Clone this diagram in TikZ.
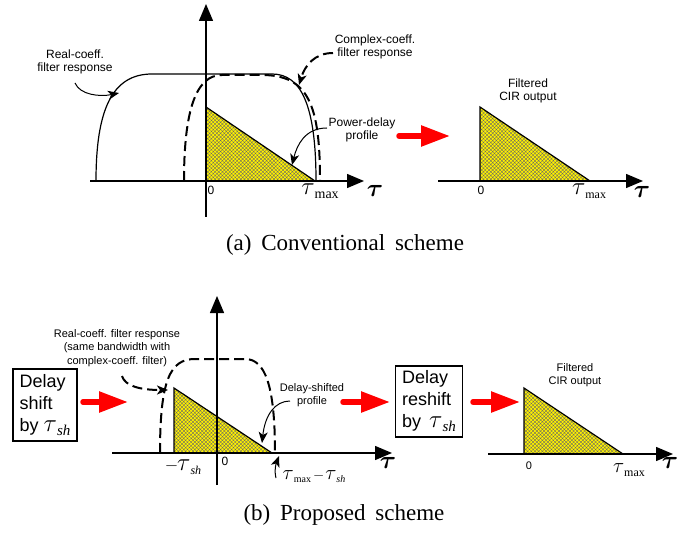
\documentclass[tikz,border=0pt]{standalone}
\usepackage{fontspec}
\setmainfont{Liberation Serif}
\newfontfamily\hv{Liberation Sans}
\usetikzlibrary{arrows.meta,patterns.meta}
\newcommand\tauf[1]{{\fontsize{#1}{#1}\selectfont\boldmath$\tau$}}
\newcommand\taun[1]{{\fontsize{#1}{#1}\selectfont$\tau$}}
\newcommand\tmx[3][-4pt]{\taun{#2}\raisebox{#1}{\rmfamily\upshape\fontsize{#3}{#3}\selectfont max}}
\newcommand\tsh[3][-4pt]{\taun{#2}\raisebox{#1}{\rmfamily\itshape\fontsize{#3}{#3}\selectfont sh}}
\tikzset{
  ax/.style={line width=1.4pt,-{Triangle[length=17pt,width=14pt]}},
  sol/.style={line width=1.2pt},
  dsh/.style={line width=2pt,dash pattern=on 10pt off 5pt},
  call/.style={line width=1pt,-{Stealth[length=11pt,width=9pt,inset=3pt]}},
  redarr/.style={red,line width=5.5pt,line cap=round,-{Triangle[length=29pt,width=20pt]}},
  lbl/.style={font=\hv\fontsize{12}{13.5}\selectfont,align=center,inner sep=0pt},
  lbls/.style={font=\hv\fontsize{11}{13.5}\selectfont,align=center,inner sep=0pt},
  num/.style={font=\hv\fontsize{12}{12}\selectfont,inner sep=0pt},
  sym/.style={inner sep=0pt},
  boxn/.style={draw,line width=1.2pt,font=\hv\fontsize{18}{22}\selectfont,align=left,inner xsep=0pt,inner ysep=0pt},
  pdp/.style={fill=yellow},
  hatch/.style={pattern={Hatch[angle=45,distance=2.6pt,line width=0.35pt]},pattern color=black!60},
  tri/.style={draw,line width=1.2pt},
  captxt/.style={font=\fontsize{23}{23}\selectfont,inner sep=0pt}
}
\begin{document}
\begin{tikzpicture}[x=1pt,y=-1pt]
\useasboundingbox (0,0) rectangle (692,534);

% ---------------- (a) left panel ----------------
\fill[pdp] (206,107) -- (206,181) -- (315,181) -- cycle;
\fill[hatch] (206,107) -- (206,181) -- (315,181) -- cycle;
\draw[tri] (206,107) -- (315,181);
\draw[sol] (96,181) .. controls (96,110) and (112,74) .. (152,74) -- (272,74)
  .. controls (301,74) and (316,105) .. (316,181);
\draw[dsh] (184,181) .. controls (184,110) and (196,75) .. (222,75) -- (262,75)
  .. controls (309,75) and (320,106) .. (320,181);
\draw[ax] (90,181) -- (364,181);
\draw[ax] (206,217) -- (206,4);
\node[num] (z1) at (211,190) {0};
\node[sym] (tm1) at (320,191) {\tmx{25}{14}};
\node[sym] (t1) at (375,191) {\tauf{27}};

\node[lbl] (rc) at (75,62) {Real-coeff.\\filter response};
\coordinate (rcA) at (75,83);
\coordinate (rcB) at (119,93);
\draw[call] (rcA) .. controls (80,95) and (100,97) .. (rcB);

\node[lbl] (cc) at (375,47) {Complex-coeff.\\filter response};
\coordinate (ccA) at (333,53);
\coordinate (ccB) at (299,85);
\draw[call,dsh] (ccA) .. controls (315,53) and (305,65) .. (ccB);

\node[lbl] (pd) at (362,130) {Power-delay\\profile};
\coordinate (pdA) at (327,128);
\coordinate (pdB) at (292,165);
\draw[call] (pdA) .. controls (305,128) and (297,145) .. (pdB);

\coordinate (ra1) at (399,136);
\coordinate (rb1) at (450,136);
\draw[redarr] (ra1) -- (rb1);

% ---------------- (a) right panel ----------------
\fill[pdp] (480,107) -- (480,181) -- (590,181) -- cycle;
\fill[hatch] (480,107) -- (480,181) -- (590,181) -- cycle;
\draw[tri] (480,181) -- (480,107) -- (590,181);
\draw[ax] (438,181) -- (643,181);
\node[num] (z2) at (481,190) {0};
\node[sym] (tm2) at (589,191) {\tmx{26}{12}};
\node[sym] (t2) at (642,192) {\tauf{27}};
\node[lbl] (fo1) at (528,91) {Filtered\\CIR output};

\node[captxt] (capa) at (345,245) {(a)\hspace{4pt} Conventional\hspace{4pt} scheme};

% ---------------- (b) ----------------
\node[boxn,minimum width=64pt,minimum height=72pt] (b1) at (45,405) {Delay\\shift\\by \tsh{24}{15}};
\coordinate (ra2) at (83,402);
\coordinate (rb2) at (128,402);
\draw[redarr] (ra2) -- (rb2);

\fill[pdp] (174,388) -- (174,453) -- (272,453) -- cycle;
\fill[hatch] (174,388) -- (174,453) -- (272,453) -- cycle;
\draw[tri] (174,453) -- (174,388) -- (272,453);
\draw[dsh] (160,453) .. controls (160,380) and (170,359) .. (195,359) -- (245,359)
  .. controls (265,359) and (275,385) .. (275,453);
\draw[ax] (112,453) -- (392,453);
\draw[ax] (217,485) -- (217,296);
\node[num] (z3) at (225,461) {0};
\node[sym] (ts3) at (183,467) {{\fontsize{16}{16}\selectfont$-$}\kern-1pt\tsh{23}{12}};
\node[sym] (t3) at (388,463) {\tauf{27}};
\node[sym] (tmts) at (314,477) {\tmx[-3pt]{22}{10}\kern2pt{\fontsize{14}{14}\selectfont$-$}\kern1pt\tsh[-3pt]{21}{10}};
\coordinate (upA) at (276,478);
\coordinate (upB) at (279,456);
\draw[call] (upA) .. controls (274,470) and (276,464) .. (upB);

\node[lbls] (rcb) at (117,348) {Real-coeff. filter response\\(same bandwidth with\\complex-coeff. filter)};
\coordinate (rbA) at (122,376);
\coordinate (rbB) at (168,390);
\draw[call,dsh] (rbA) .. controls (125,386) and (140,390) .. (rbB);

\node[lbls] (ds) at (312,395) {Delay-shifted\\profile};
\coordinate (dsA) at (290,401);
\coordinate (dsB) at (262,443);
\draw[call] (dsA) .. controls (275,401) and (265,415) .. (dsB);

\coordinate (ra3) at (343,402);
\coordinate (rb3) at (390,402);
\draw[redarr] (ra3) -- (rb3);

\node[boxn,minimum width=67pt,minimum height=71pt] (b2) at (429,401.5) {Delay\\reshift\\by\hspace{8pt}\tsh{24}{15}};

\coordinate (ra4) at (473,402);
\coordinate (rb4) at (520,402);
\draw[redarr] (ra4) -- (rb4);

\fill[pdp] (524,388) -- (524,454) -- (623,454) -- cycle;
\fill[hatch] (524,388) -- (524,454) -- (623,454) -- cycle;
\draw[tri] (524,454) -- (524,388) -- (623,454);
\draw[ax] (488,454) -- (673,454);
\node[num,font=\hv\fontsize{11}{11}\selectfont] (z4) at (529,466) {0};
\node[sym] (tm4) at (629,470) {\tmx{20}{12}};
\node[sym] (t4) at (670,463) {\tauf{27}};
\node[lbls] (fo2) at (575,375) {Filtered\\CIR output};

\node[captxt] (capb) at (344,515) {(b)\hspace{4pt} Proposed\hspace{4pt} scheme};
\end{tikzpicture}
\end{document}
